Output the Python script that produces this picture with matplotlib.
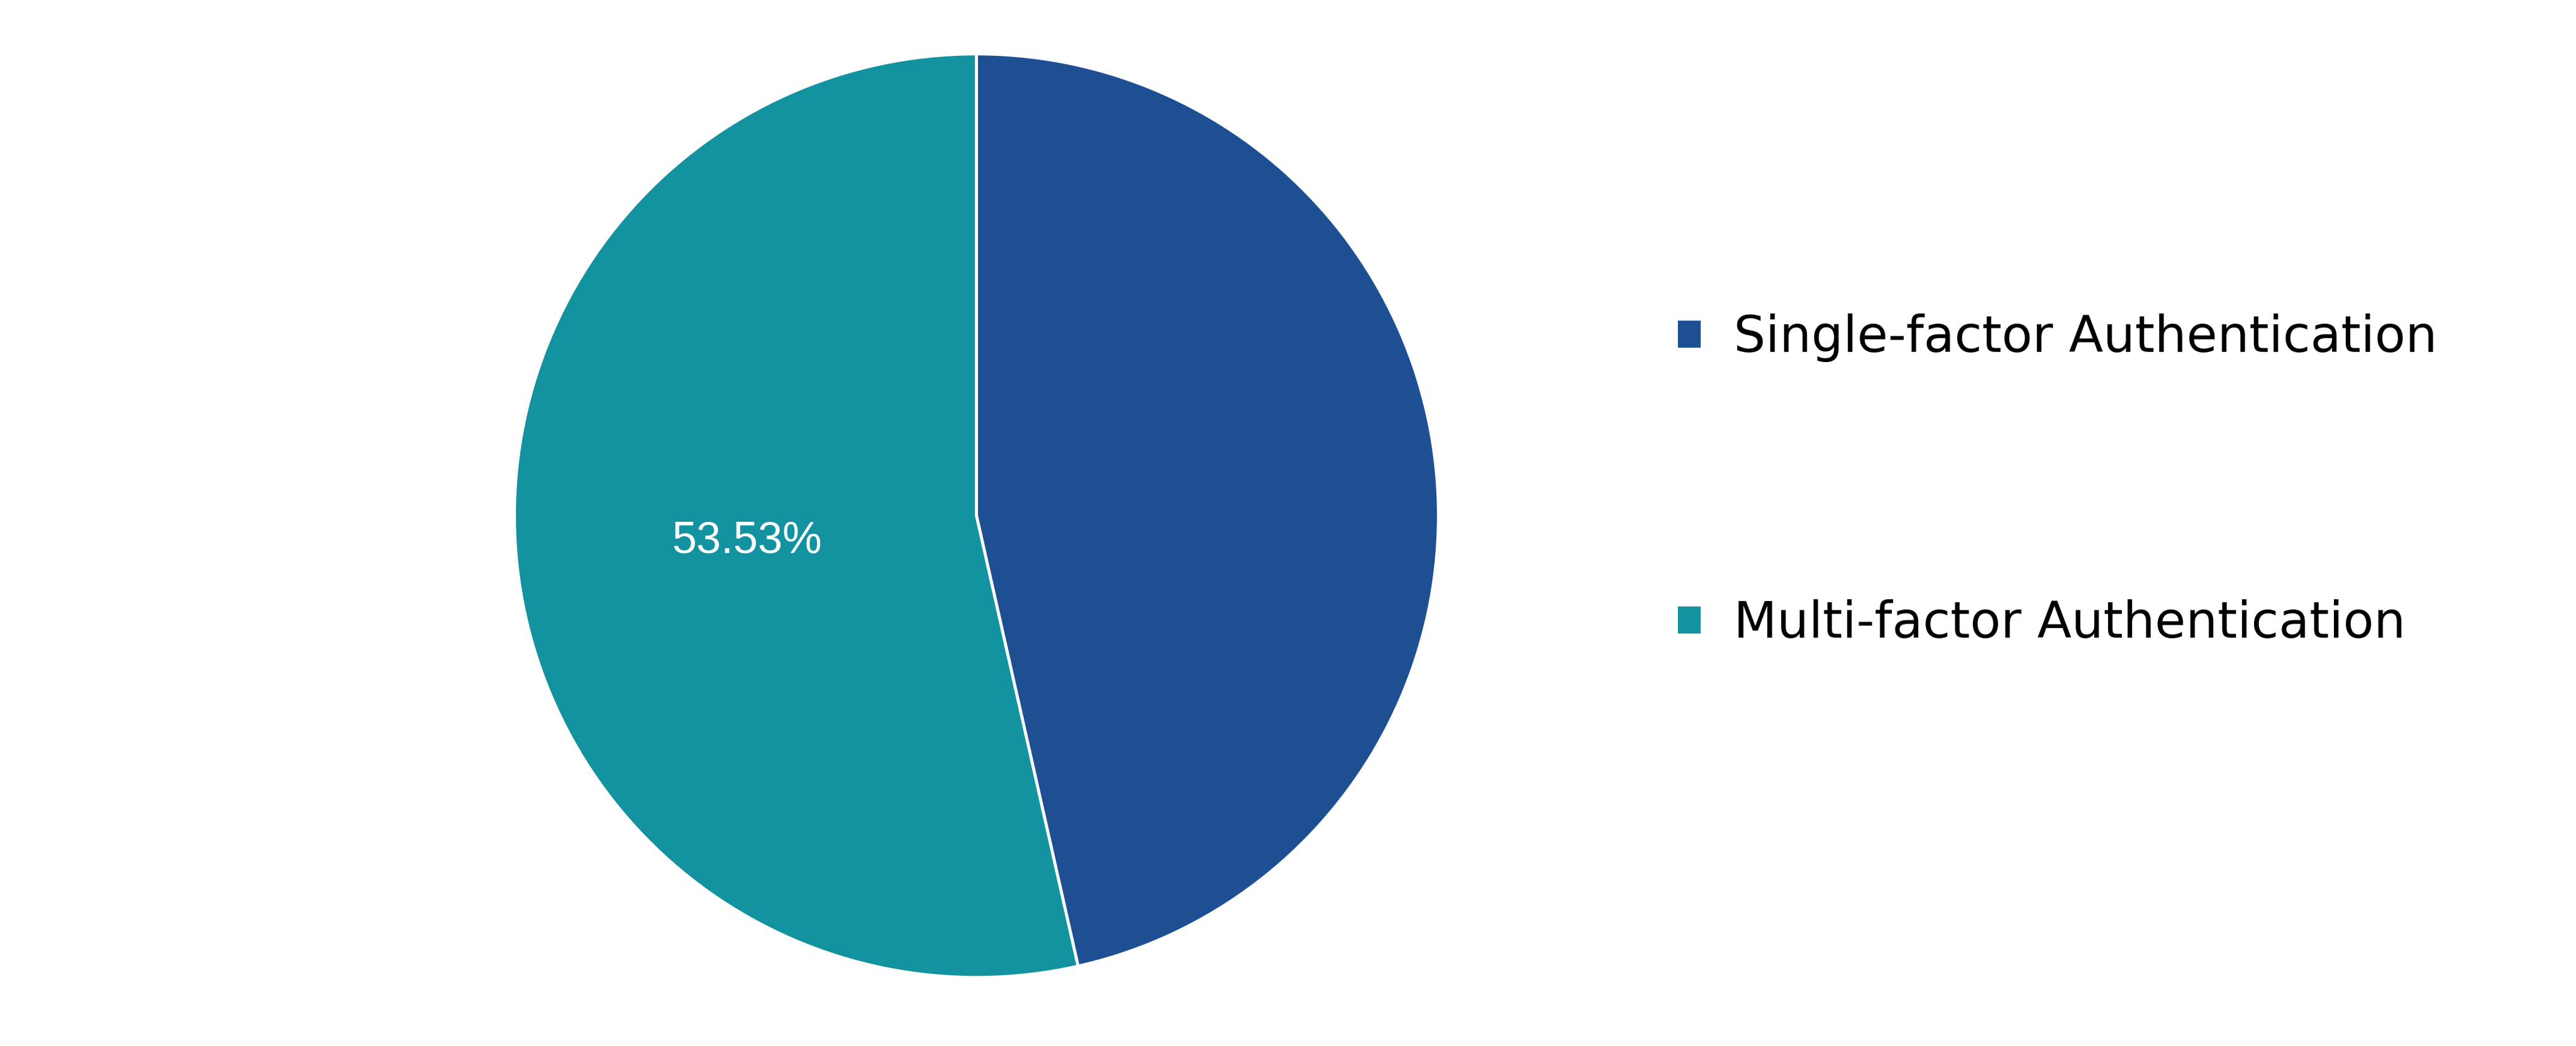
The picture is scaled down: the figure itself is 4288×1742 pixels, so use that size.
import matplotlib
matplotlib.use('Agg')
import matplotlib.pyplot as plt

labels = ['Single-factor Authentication', 'Multi-factor Authentication']
shares = [46.47, 53.53]
colors = ['#1F4F93', '#1392A0']


def fmt(pct):
    # label only the multi-factor slice
    if pct > 50:
        return '{:.2f}%'.format(pct)
    return ''


fig = plt.figure(figsize=(21.44, 8.71), dpi=200)
ax = fig.add_axes([0.1997, 0.0655, 0.3587, 0.883])

wedges, texts, autotexts = ax.pie(
    shares, colors=colors, startangle=90, counterclock=False,
    autopct=fmt, pctdistance=0.5,
    wedgeprops={'edgecolor': 'white', 'linewidth': 1.8},
    textprops={'color': 'white', 'fontsize': 26.5, 'family': 'Liberation Sans'})
ax.set_xlim(-1, 1)
ax.set_ylim(-1, 1)
ax.set_aspect('equal')

leg = fig.legend(wedges, labels, loc='upper left',
                 bbox_to_anchor=(2793 / 4288, 1 - 522 / 1742),
                 frameon=False, borderpad=0, borderaxespad=0,
                 handlelength=0.46, handleheight=0.46, handletextpad=0.66,
                 labelspacing=4.74, prop={'family': 'DejaVu Sans', 'size': 30})
for h in leg.legend_handles:
    h.set_edgecolor('none')

fig.savefig('out.png', dpi=200, facecolor='white')
